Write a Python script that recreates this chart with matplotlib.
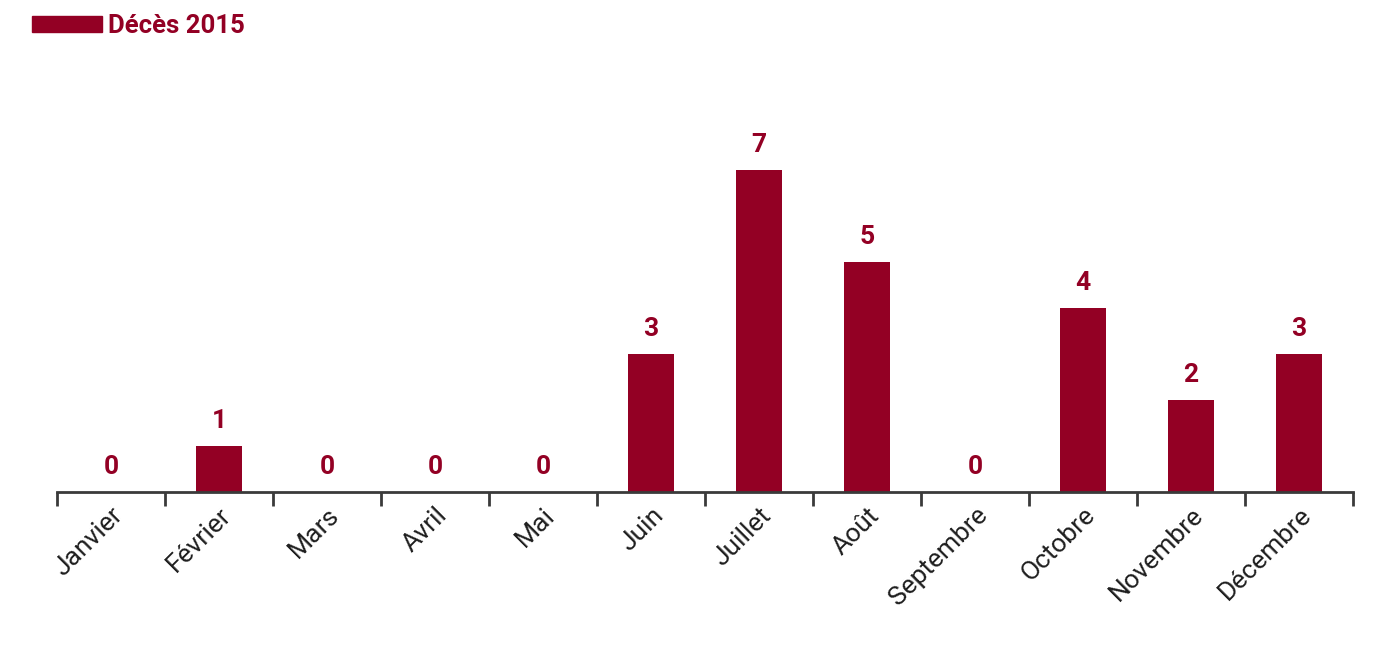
import matplotlib
matplotlib.use('Agg')
import matplotlib.pyplot as plt
import matplotlib.patches as mpatches
import numpy as np

months = ['Janvier', 'Février', 'Mars', 'Avril', 'Mai', 'Juin', 'Juillet',
          'Août', 'Septembre', 'Octobre', 'Novembre', 'Décembre']
deaths = [0, 1, 0, 0, 0, 3, 7, 5, 0, 4, 2, 3]
series_name = 'Décès 2015'

RED = '#930024'
AXIS = '#3a3a3a'

plt.rcParams['font.family'] = ['Roboto', 'DejaVu Sans']

fig = plt.figure(figsize=(13.95, 6.46), dpi=100)
ax = fig.add_axes([57 / 1395, 154 / 646, 1296 / 1395, 391 / 646])

x = np.arange(len(months))
bars = ax.bar(x, deaths, width=0.42, color=RED)

# value labels over each bar
for xi, v in zip(x, deaths):
    ax.annotate(str(v), (xi, v), xytext=(0, 9), textcoords='offset points',
                ha='center', va='bottom', fontsize=19, fontweight='bold',
                color=RED)

ax.set_xlim(-0.5, len(months) - 0.5)
ax.set_ylim(0, 8.5)

for s in ['top', 'right', 'left']:
    ax.spines[s].set_visible(False)
ax.spines['bottom'].set_color(AXIS)
ax.spines['bottom'].set_linewidth(2)
ax.set_yticks([])

# labels at centres, tick marks at category boundaries
ax.set_xticks(x)
ax.set_xticklabels(months, rotation=45, ha='right', rotation_mode='anchor',
                   fontsize=19, color='#1e1e1e', fontweight='normal')
ax.tick_params(axis='x', which='major', length=0, pad=8)
ax.set_xticks(np.arange(-0.5, len(months), 1.0), minor=True)
ax.tick_params(axis='x', which='minor', length=10, width=2, color=AXIS,
               direction='out')

handle = mpatches.Patch(color=RED, label=series_name)
leg = fig.legend(handles=[handle], loc='upper left',
                 bbox_to_anchor=(22 / 1395, 1 - 4 / 646), frameon=False,
                 fontsize=18.5, handlelength=2.7, handleheight=0.55,
                 handletextpad=0.25, borderaxespad=0)
for t in leg.get_texts():
    t.set_color(RED)
    t.set_fontweight('bold')

fig.savefig('out.png', dpi=100)
